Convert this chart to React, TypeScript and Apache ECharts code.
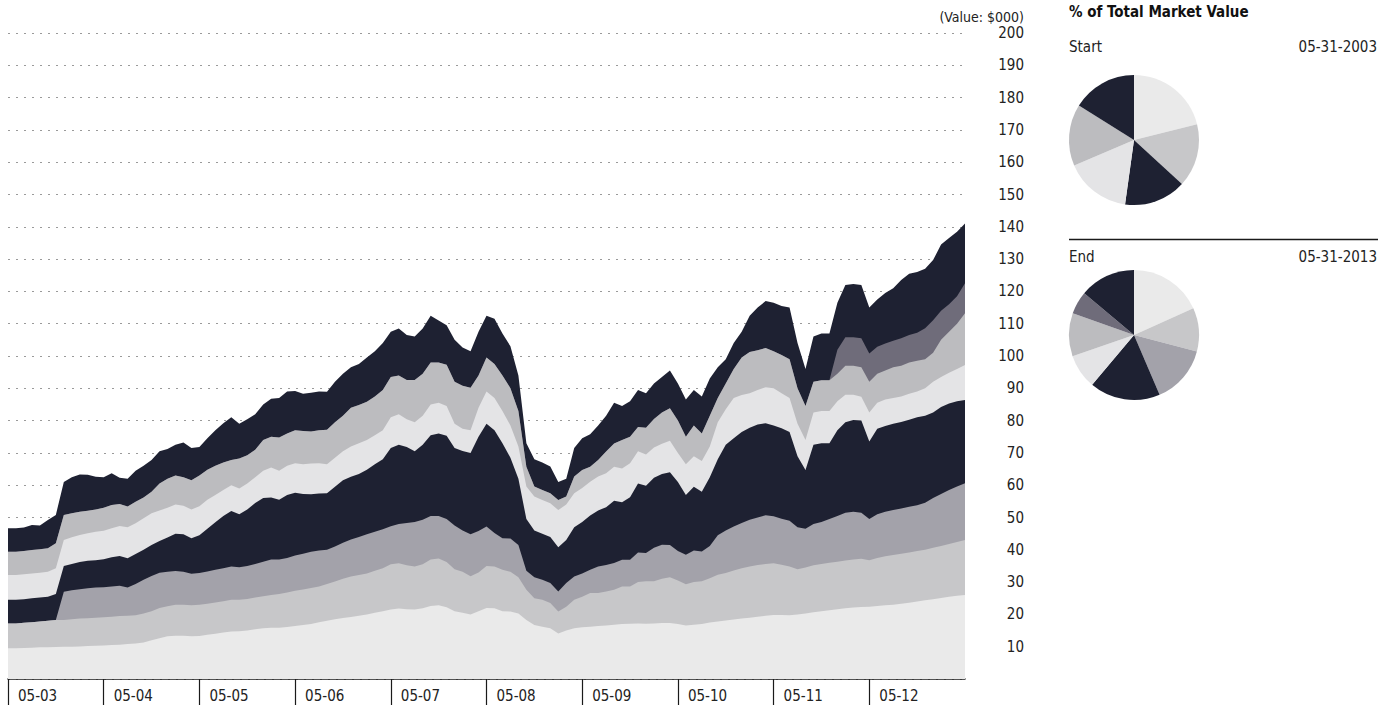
import React, { useEffect, useRef } from "react";
import * as echarts from "echarts";

// Month categories May 2003 .. May 2013 (MM-YY)
const pad = (n: number) => (n < 10 ? "0" + n : "" + n);
const months: string[] = Array.from({ length: 121 }, (_, i) => {
  const m = ((4 + i) % 12) + 1;
  const y = 3 + Math.floor((4 + i) / 12);
  return pad(m) + "-" + pad(y);
});

// Upper edge of each layer (cumulative value, $000)
const topLayer8 = [
  46.7, 46.7, 46.9, 47.7, 47.5, 49.2, 50.8, 61.0, 62.5, 63.3,
  63.2, 62.6, 62.5, 63.7, 62.3, 62.0, 64.5, 66.0, 67.8, 70.5,
  71.2, 72.5, 73.2, 71.5, 71.8, 74.5, 77.0, 79.2, 81.0, 79.0,
  80.4, 82.0, 85.0, 86.8, 87.0, 89.0, 89.2, 88.3, 88.6, 89.0,
  88.9, 92.0, 94.5, 96.5, 97.5, 99.5, 101.5, 104.0, 107.5, 108.5,
  106.5, 106.0, 108.5, 112.5, 111.0, 109.5, 105.0, 102.6, 101.5, 107.5,
  112.5, 111.5, 107.0, 103.0, 94.0, 73.0, 68.0, 67.0, 65.8, 61.0,
  62.0, 71.5, 74.5, 75.8, 78.5, 81.5, 85.5, 84.5, 86.0, 89.5,
  88.5, 91.5, 93.5, 95.5, 91.5, 86.5, 89.5, 87.5, 93.0, 96.5,
  99.0, 104.0, 107.5, 112.5, 115.0, 117.0, 116.5, 115.5, 115.0, 104.0,
  96.0, 106.0, 107.0, 107.0, 116.5, 122.0, 122.3, 122.0, 115.0, 117.5,
  119.5, 121.0, 123.5, 125.5, 126.0, 127.0, 129.7, 134.5, 136.5, 138.5, 141.0,
];

const topLayer7 = [
  39.4, 39.4, 39.6, 39.9, 40.2, 40.5, 42.0, 50.8, 51.3, 51.8,
  52.1, 52.5, 53.0, 53.9, 54.2, 53.4, 54.9, 56.2, 58.0, 60.5,
  62.0, 63.0, 62.5, 61.5, 63.0, 64.8, 66.0, 67.0, 67.8, 68.3,
  69.3, 71.0, 74.0, 75.0, 74.8, 76.0, 77.0, 76.8, 76.6, 77.0,
  77.2, 79.5, 81.5, 84.0, 84.8, 85.8, 87.5, 89.5, 93.5, 94.0,
  92.6, 92.6, 94.5, 98.0, 98.0, 97.3, 92.0, 90.8, 90.2, 94.0,
  99.5, 97.5, 94.0, 90.0, 83.0, 65.7, 59.6, 58.5, 57.5, 55.4,
  56.5, 62.7, 64.7, 65.7, 67.8, 70.4, 72.9, 74.0, 75.0, 78.0,
  77.8, 80.5, 82.5, 83.8, 80.0, 75.0, 78.5, 76.0, 81.5, 87.0,
  91.5, 96.0, 99.5, 101.2, 101.8, 102.5, 101.5, 100.3, 99.0, 90.0,
  84.5, 92.0, 92.5, 92.5, 101.9, 105.8, 105.8, 105.5, 100.8, 102.9,
  103.9, 104.7, 105.5, 106.5, 107.2, 108.6, 111.1, 114.0, 116.0, 118.5, 122.5,
];

const topLayer6 = [
  39.4, 39.4, 39.6, 39.9, 40.2, 40.5, 42.0, 50.8, 51.3, 51.8,
  52.1, 52.5, 53.0, 53.9, 54.2, 53.4, 54.9, 56.2, 58.0, 60.5,
  62.0, 63.0, 62.5, 61.5, 63.0, 64.8, 66.0, 67.0, 67.8, 68.3,
  69.3, 71.0, 74.0, 75.0, 74.8, 76.0, 77.0, 76.8, 76.6, 77.0,
  77.2, 79.5, 81.5, 84.0, 84.8, 85.8, 87.5, 89.5, 93.5, 94.0,
  92.6, 92.6, 94.5, 98.0, 98.0, 97.3, 92.0, 90.8, 90.2, 94.0,
  99.5, 97.5, 94.0, 90.0, 83.0, 65.7, 59.6, 58.5, 57.5, 55.4,
  56.5, 62.7, 64.7, 65.7, 67.8, 70.4, 72.9, 74.0, 75.0, 78.0,
  77.8, 80.5, 82.5, 83.8, 80.0, 75.0, 78.5, 76.0, 81.5, 87.0,
  91.5, 96.0, 99.5, 101.2, 101.8, 102.5, 101.5, 100.3, 99.0, 90.0,
  84.5, 92.0, 92.5, 92.5, 94.5, 97.0, 97.0, 96.5, 92.0, 94.5,
  95.5, 96.5, 97.0, 98.0, 98.5, 99.0, 101.0, 105.0, 107.5, 110.0, 113.2,
];

const topLayer5 = [
  32.2, 32.2, 32.4, 32.7, 32.9, 33.2, 34.3, 43.0, 43.9, 44.6,
  45.1, 45.6, 45.9, 46.7, 47.4, 47.0, 48.2, 49.8, 51.3, 52.2,
  53.0, 54.0, 53.6, 52.5, 53.5, 55.5, 57.0, 58.5, 60.0, 59.0,
  60.5, 62.5, 64.5, 65.5, 64.5, 66.0, 66.8, 66.5, 66.7, 66.8,
  66.5, 68.5, 70.5, 72.0, 73.0, 74.0, 75.5, 77.0, 81.0, 82.0,
  80.4, 79.5, 81.5, 85.0, 85.5, 84.5, 79.0, 77.5, 77.0, 84.0,
  89.0, 87.0, 83.0, 78.5, 72.0, 59.6, 56.5, 55.4, 54.4, 52.3,
  54.0, 57.5, 59.1, 61.1, 62.7, 63.7, 65.7, 65.2, 66.8, 70.5,
  69.5, 71.7, 72.8, 73.8, 70.0, 66.5, 69.0, 67.5, 72.0, 79.5,
  83.5, 87.0, 87.9, 88.5, 89.5, 90.3, 90.0, 88.5, 87.0, 79.0,
  74.0, 82.5, 83.0, 83.0, 86.0, 88.0, 88.0, 87.4, 82.5, 85.5,
  86.5, 87.0, 87.5, 88.3, 89.0, 90.0, 92.0, 93.5, 94.8, 96.0, 97.2,
];

const topLayer4 = [
  24.5, 24.5, 24.7, 25.0, 25.2, 25.5, 26.3, 35.0, 35.6, 36.2,
  36.6, 36.8, 37.1, 37.7, 38.1, 37.4, 38.7, 40.0, 41.5, 42.7,
  43.8, 45.0, 44.8, 43.6, 44.5, 46.5, 48.5, 50.5, 52.0, 51.0,
  52.5, 54.5, 56.0, 56.2, 55.5, 57.0, 57.7, 57.3, 57.2, 57.4,
  57.5, 59.5, 61.5, 62.6, 63.5, 64.8, 66.5, 68.0, 71.5, 72.5,
  71.8, 70.5, 72.5, 75.5, 76.0, 75.3, 71.5, 70.6, 70.0, 75.0,
  79.0, 77.0, 73.0, 68.5, 62.0, 49.5, 46.0, 45.0, 44.0, 40.8,
  43.0, 47.0, 48.6, 50.6, 52.2, 53.2, 55.2, 54.7, 56.3, 60.5,
  59.8, 62.3, 63.5, 64.0, 61.0, 57.0, 59.5, 58.0, 62.5, 68.0,
  72.5, 74.5, 76.5, 77.8, 78.8, 79.2, 78.5, 77.6, 76.5, 69.0,
  64.7, 72.5, 73.0, 73.0, 77.0, 79.5, 80.2, 80.0, 73.5, 77.5,
  78.3, 79.0, 79.6, 80.3, 81.0, 81.5, 82.5, 84.2, 85.3, 86.0, 86.4,
];

const topLayer3 = [
  17.2, 17.2, 17.4, 17.6, 17.8, 18.0, 18.3, 27.0, 27.5, 27.8,
  28.1, 28.3, 28.4, 28.6, 28.9, 28.3, 29.4, 30.7, 31.9, 32.9,
  33.2, 33.4, 33.2, 32.6, 32.8, 33.3, 33.8, 34.3, 34.8, 34.6,
  35.0, 35.6, 36.3, 37.0, 37.0, 37.5, 38.2, 38.8, 39.4, 39.8,
  40.0, 41.0, 42.2, 43.2, 44.0, 44.8, 45.6, 46.4, 47.3, 48.0,
  48.3, 48.6, 49.3, 50.5, 50.5, 49.5, 47.5, 46.0, 44.8, 45.8,
  47.2, 45.2, 43.6, 43.5, 41.5, 33.5, 31.5, 30.7, 29.7, 27.1,
  29.7, 31.7, 32.7, 33.8, 34.8, 35.3, 35.9, 36.9, 36.9, 39.2,
  39.0, 40.6, 41.6, 41.5, 39.6, 38.5, 39.8, 39.5, 41.2, 44.5,
  46.0, 47.2, 48.3, 49.3, 50.0, 50.7, 50.4, 49.6, 49.0, 47.0,
  46.5, 48.0, 48.6, 49.5, 50.5, 51.5, 51.8, 51.5, 49.5, 51.0,
  51.8, 52.3, 52.8, 53.3, 53.8, 54.6, 56.0, 57.3, 58.5, 59.6, 60.6,
];

const topLayer2 = [
  17.2, 17.2, 17.4, 17.6, 17.8, 18.0, 18.3, 18.3, 18.5, 18.7,
  18.8, 19.0, 19.1, 19.3, 19.5, 19.6, 19.7, 20.3, 21.0, 22.0,
  22.5, 23.0, 23.0, 22.8, 23.0, 23.3, 23.7, 24.1, 24.5, 24.5,
  24.8, 25.2, 25.6, 26.0, 26.3, 26.8, 27.3, 27.7, 28.2, 28.6,
  29.4, 30.2, 31.0, 31.7, 32.2, 32.7, 33.5, 34.3, 35.5, 35.8,
  35.2, 34.8, 35.5, 37.0, 37.3, 36.2, 34.0, 33.2, 31.8, 33.0,
  35.0, 34.8, 33.8, 33.2, 31.5, 27.6, 25.0, 24.5, 23.5, 20.9,
  22.4, 24.5, 25.5, 26.6, 26.6, 27.1, 27.6, 28.6, 28.6, 30.0,
  30.3, 30.3, 31.0, 31.5, 30.5, 29.3, 30.0, 30.3, 31.2, 32.3,
  32.8, 33.6, 34.3, 34.8, 35.3, 35.6, 35.8, 35.4, 34.8, 34.0,
  34.5, 35.2, 35.6, 36.0, 36.3, 36.7, 37.0, 37.2, 36.8, 37.5,
  38.0, 38.4, 38.8, 39.2, 39.6, 40.0, 40.6, 41.2, 41.8, 42.4, 43.0,
];

const topLayer1 = [
  9.5, 9.5, 9.6, 9.7, 9.8, 9.8, 9.9, 10.0, 10.0, 10.1,
  10.2, 10.3, 10.4, 10.5, 10.6, 10.8, 11.0, 11.3, 12.0, 12.6,
  13.2, 13.4, 13.4, 13.2, 13.3, 13.7, 14.0, 14.4, 14.7, 14.8,
  15.0, 15.4, 15.7, 15.9, 15.9, 16.1, 16.4, 16.7, 17.0, 17.6,
  18.0, 18.5, 18.9, 19.2, 19.6, 20.0, 20.5, 21.0, 21.5, 21.8,
  21.6, 21.5, 21.9, 22.6, 22.8, 22.2, 21.0, 20.5, 20.0, 21.0,
  22.0, 21.9, 21.0, 20.9, 20.3, 18.3, 16.7, 16.2, 15.7, 14.1,
  15.0, 15.7, 16.0, 16.2, 16.4, 16.6, 16.8, 17.0, 17.1, 17.2,
  17.1, 17.2, 17.3, 17.3, 17.0, 16.6, 16.8, 17.0, 17.5, 17.8,
  18.1, 18.4, 18.7, 19.0, 19.3, 19.6, 19.8, 19.8, 19.7, 20.0,
  20.3, 20.7, 21.0, 21.3, 21.6, 21.9, 22.1, 22.3, 22.4, 22.6,
  22.8, 23.0, 23.3, 23.6, 24.0, 24.4, 24.7, 25.1, 25.5, 25.8, 26.0,
];

// Pie shares (% of total market value)
const startShares = [21.1, 15.7, 0, 15.4, 16.4, 15.3, 0, 16.1];
const endShares = [18.3, 10.8, 14.5, 17.6, 8.6, 10.7, 5.7, 13.9];

const layerNames = ["Holding 1", "Holding 2", "Holding 3", "Holding 4", "Holding 5", "Holding 6", "Holding 7", "Holding 8"];
const NAVY = "#1e2132";
const layerColors = ["#eaeaea", "#c7c7c9", "#a3a2aa", NAVY, "#e4e4e6", "#bcbcbf", "#6f6c7a", NAVY];

const FONT = "'DejaVu Sans Condensed', 'Liberation Sans Narrow', sans-serif";

export default function App() {
  const ref = useRef<HTMLDivElement>(null);
  useEffect(() => {
    if (!ref.current) return;
    const chart = echarts.init(ref.current, undefined, { renderer: "svg" });
    const tops = [topLayer1, topLayer2, topLayer3, topLayer4, topLayer5, topLayer6, topLayer7, topLayer8];
    const areaSeries = [7, 6, 5, 4, 3, 2, 1, 0].map((k) => ({
      name: layerNames[k],
      type: "line",
      data: tops[k],
      showSymbol: false,
      symbol: "none",
      lineStyle: { width: 0 },
      areaStyle: { color: layerColors[k], opacity: 1 },
      itemStyle: { color: layerColors[k] },
      silent: true,
    }));
    const pieData = (shares: number[]) =>
      shares
        .map((v, i) => ({ value: v, name: layerNames[i], itemStyle: { color: layerColors[i] } }))
        .filter((d) => d.value > 0);
    const yearTick = (idx: number) => idx % 12 === 0 && idx < 120;
    const txt = (text: string, x: number, y: number, align: string, extra: any = {}) => ({
      type: "text",
      x,
      y,
      style: {
        text,
        fill: "#222",
        fontSize: 15,
        fontFamily: FONT,
        textAlign: align,
        textVerticalAlign: "middle",
        align,
        verticalAlign: "middle",
        ...extra,
      },
    });
    chart.setOption({
      animation: false,
      backgroundColor: "#ffffff",
      grid: { left: 8, right: 432, top: 33, bottom: 31, containLabel: false },
      xAxis: {
        type: "category",
        data: months,
        boundaryGap: false,
        axisLine: { show: true, lineStyle: { color: "#1a1a1a", width: 1.5 } },
        axisTick: { show: true, interval: yearTick, length: 26, lineStyle: { color: "#1a1a1a", width: 1.2 } },
        axisLabel: {
          interval: yearTick,
          align: "left",
          margin: 9,
          padding: [0, 0, 0, 10],
          color: "#222",
          fontSize: 15,
          fontFamily: FONT,
        },
        splitLine: { show: false },
      },
      yAxis: {
        type: "value",
        position: "right",
        min: 0,
        max: 200,
        interval: 10,
        axisLine: { show: false },
        axisTick: { show: false },
        axisLabel: {
          align: "right",
          margin: 59,
          color: "#222",
          fontSize: 15,
          fontFamily: FONT,
          formatter: (v: number) => (v === 0 ? "" : String(v)),
        },
        splitLine: { show: true, lineStyle: { color: "#9a9a9a", type: [2, 6], width: 1 } },
      },
      series: [
        ...areaSeries,
        {
          name: "Start",
          type: "pie",
          center: [1134, 140],
          radius: 65,
          startAngle: 90,
          clockwise: true,
          silent: true,
          label: { show: false },
          labelLine: { show: false },
          itemStyle: { borderWidth: 0 },
          data: pieData(startShares),
        },
        {
          name: "End",
          type: "pie",
          center: [1134, 335],
          radius: 65,
          startAngle: 90,
          clockwise: true,
          silent: true,
          label: { show: false },
          labelLine: { show: false },
          itemStyle: { borderWidth: 0 },
          data: pieData(endShares),
        },
      ],
      graphic: [
        txt("(Value: $000)", 1024, 17, "right", { fontSize: 14 }),
        txt("% of Total Market Value", 1069, 12, "left", { fontWeight: "bold", fill: "#111" }),
        txt("Start", 1069, 47, "left"),
        txt("05-31-2003", 1377, 47, "right"),
        {
          type: "line",
          shape: { x1: 1069, y1: 239.5, x2: 1378, y2: 239.5 },
          style: { stroke: "#1a1a1a", lineWidth: 1.5 },
        },
        txt("End", 1069, 257, "left"),
        txt("05-31-2013", 1377, 257, "right"),
      ],
    });
    return () => chart.dispose();
  }, []);
  return (
    <div
      ref={ref}
      style={{ position: "fixed", left: 0, top: 0, width: 1397, height: 710, background: "#fff" }}
    />
  );
}
